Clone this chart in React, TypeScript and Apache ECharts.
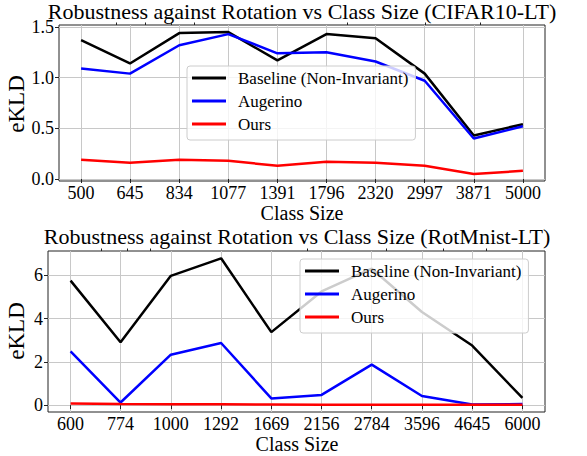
import React, { useEffect, useRef } from 'react';
import * as echarts from 'echarts';

// ---- Data ----
const classSizesCifar = [500, 645, 834, 1077, 1391, 1796, 2320, 2997, 3871, 5000];
const baselineCifar = [1.37, 1.14, 1.44, 1.45, 1.17, 1.43, 1.39, 1.04, 0.43, 0.54];
const augerinoCifar = [1.09, 1.04, 1.32, 1.43, 1.24, 1.25, 1.16, 0.97, 0.40, 0.52];
const oursCifar = [0.19, 0.16, 0.19, 0.18, 0.13, 0.17, 0.16, 0.13, 0.05, 0.08];

const classSizesRot = [600, 774, 1000, 1292, 1669, 2156, 2784, 3596, 4645, 6000];
const baselineRot = [5.75, 2.9, 5.97, 6.78, 3.37, 5.25, 6.3, 4.3, 2.75, 0.33];
const augerinoRot = [2.48, 0.12, 2.33, 2.87, 0.31, 0.47, 1.87, 0.42, 0.03, 0.05];
const oursRot = [0.08, 0.05, 0.04, 0.04, 0.03, 0.02, 0.02, 0.02, 0.02, 0.02];

const seriesNames = ['Baseline (Non-Invariant)', 'Augerino', 'Ours'];
const seriesColors = ['#000000', '#0000ff', '#ff0000'];

const cifarTicksY = [0, 0.5, 1.0, 1.5];
const rotTicksY = [0, 2, 4, 6];
const cifarMinorX = [600, 700, 800, 900, 2000, 3000, 4000];
const rotMinorX = [700, 800, 900, 2000, 3000, 4000, 5000];

const titleCifar = 'Robustness against Rotation vs Class Size (CIFAR10-LT)';
const titleRot = 'Robustness against Rotation vs Class Size (RotMnist-LT)';
const xName = 'Class Size';
const yName = 'eKLD';

const FONT = 'Liberation Serif';

function extent(vals: number[]): [number, number] {
  const lo = Math.min(...vals);
  const hi = Math.max(...vals);
  const pad = 0.05 * (hi - lo);
  return [lo - pad, hi + pad];
}

function makeXAxes(gridIndex: number, sizes: number[], minor: number[]) {
  const lx = sizes.map((s) => Math.log10(s));
  const [mn, mx] = extent(lx);
  return [
    {
      type: 'value',
      gridIndex,
      min: mn,
      max: mx,
      axisLine: { show: false },
      axisTick: { show: true, length: 4, customValues: lx, lineStyle: { color: '#222', width: 1 } },
      axisLabel: {
        show: true,
        customValues: lx,
        margin: 5,
        fontFamily: FONT,
        fontSize: 18,
        lineHeight: 14,
        color: '#000',
        formatter: (v: number) => {
          const i = lx.findIndex((t) => Math.abs(t - v) < 1e-6);
          return i >= 0 ? String(sizes[i]) : '';
        },
      },
      splitLine: { show: true, lineStyle: { color: '#c8c8c8', width: 1 } },
    },
    {
      type: 'value',
      gridIndex,
      min: mn,
      max: mx,
      axisLine: { show: false },
      axisTick: { show: true, length: 2.5, customValues: minor.map((m) => Math.log10(m)), lineStyle: { color: '#222', width: 1 } },
      axisLabel: { show: false },
      splitLine: { show: false },
    },
  ];
}

function makeYAxis(gridIndex: number, vals: number[], ticks: number[], decimals: number) {
  const [mn, mx] = extent(vals);
  return {
    type: 'value',
    gridIndex,
    min: mn,
    max: mx,
    axisLine: { show: false },
    axisTick: { show: true, length: 4, customValues: ticks, lineStyle: { color: '#222', width: 1 } },
    axisLabel: {
      show: true,
      customValues: ticks,
      margin: 5,
      fontFamily: FONT,
      fontSize: 18,
      lineHeight: 12,
      color: '#000',
      formatter: (v: number) => v.toFixed(decimals),
    },
    splitLine: { show: true, lineStyle: { color: '#c8c8c8', width: 1 } },
  };
}

function makeSeries(xAxisIndex: number, yAxisIndex: number, sizes: number[], sets: number[][]) {
  return sets.map((vals, k) => ({
    type: 'line',
    name: seriesNames[k],
    xAxisIndex,
    yAxisIndex,
    data: sizes.map((s, i) => [Math.log10(s), vals[i]]),
    showSymbol: false,
    symbol: 'none',
    lineStyle: { color: seriesColors[k], width: 2.5 },
    itemStyle: { color: seriesColors[k] },
    z: 2 + k,
  }));
}

function makeLegend(left: number, top: number) {
  return {
    left,
    top,
    orient: 'vertical',
    data: seriesNames,
    icon: 'rect',
    itemWidth: 34,
    itemHeight: 3,
    itemGap: 3,
    padding: [2, 7, 6, 5],
    backgroundColor: 'rgba(255,255,255,0.8)',
    borderColor: '#cccccc',
    borderWidth: 1,
    borderRadius: 3,
    selectedMode: false,
    textStyle: { fontFamily: FONT, fontSize: 17, color: '#000', lineHeight: 20, padding: [0, 0, 0, 7] },
  };
}

function gText(x: number, y: number, text: string, size: number, lineHeight: number, rotate = false) {
  return {
    type: 'text',
    x,
    y,
    rotation: rotate ? Math.PI / 2 : 0,
    style: {
      text,
      fill: '#000',
      fontFamily: FONT,
      fontSize: size,
      lineHeight,
      textAlign: 'center',
      textVerticalAlign: 'middle',
    },
  };
}

export default function App() {
  const ref = useRef<HTMLDivElement>(null);

  useEffect(() => {
    if (!ref.current) return;
    const chart = echarts.init(ref.current, null, { renderer: 'svg' });
    const gridStyle = { show: true, borderColor: '#222', borderWidth: 1, backgroundColor: 'transparent' };
    const allCifar = [...baselineCifar, ...augerinoCifar, ...oursCifar];
    const allRot = [...baselineRot, ...augerinoRot, ...oursRot];
    chart.setOption({
      animation: false,
      backgroundColor: '#ffffff',
      grid: [
        { left: 59, top: 25, width: 486, height: 156, ...gridStyle },
        { left: 48, top: 251, width: 497, height: 161, ...gridStyle },
      ],
      xAxis: [...makeXAxes(0, classSizesCifar, cifarMinorX), ...makeXAxes(1, classSizesRot, rotMinorX)],
      yAxis: [makeYAxis(0, allCifar, cifarTicksY, 1), makeYAxis(1, allRot, rotTicksY, 0)],
      legend: [makeLegend(187, 66), makeLegend(300, 259)],
      series: [
        ...makeSeries(0, 0, classSizesCifar, [baselineCifar, augerinoCifar, oursCifar]),
        ...makeSeries(2, 1, classSizesRot, [baselineRot, augerinoRot, oursRot]),
      ],
      graphic: [
        gText(302, 11, titleCifar, 22, 18),
        gText(297, 236, titleRot, 22, 18),
        gText(302, 213, xName, 20, 18),
        gText(297, 444, xName, 20, 18),
        gText(16, 104, yName, 23, 22, true),
        gText(16, 331, yName, 23, 22, true),
      ],
    });
    return () => chart.dispose();
  }, []);

  return <div ref={ref} style={{ position: 'fixed', left: 0, top: 0, width: 587, height: 456 }} />;
}
